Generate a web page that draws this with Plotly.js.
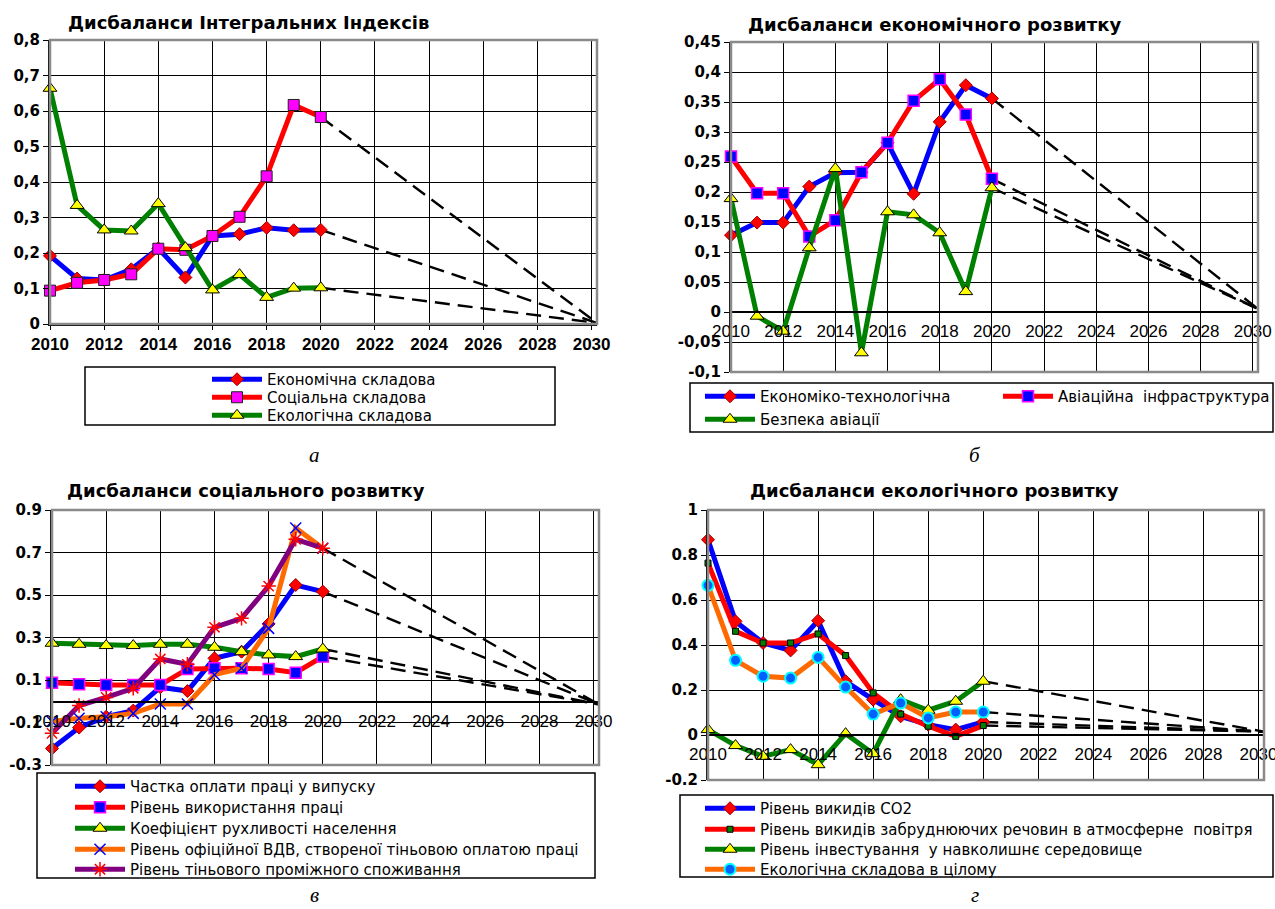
<!DOCTYPE html>
<html>
<head>
<meta charset="utf-8">
<script src="https://cdn.plot.ly/plotly-3.0.1.min.js"></script>
<style>html,body{margin:0;padding:0;background:#fff}#chart{width:1275px;height:909px}</style>
</head>
<body>
<div id="chart"></div>
<script>
// ---------- data ----------
const years = [2010, 2011, 2012, 2013, 2014, 2015, 2016, 2017, 2018, 2019, 2020];
const trendYears = [2020, 2030.2];
const xTickVals = [2010, 2012, 2014, 2016, 2018, 2020, 2022, 2024, 2026, 2028, 2030];
const xTickText = ['2010', '2012', '2014', '2016', '2018', '2020', '2022', '2024', '2026', '2028', '2030'];

// а — інтегральні індекси
const aNames = ['Економічна складова', 'Соціальна складова', 'Екологічна складова'];
const aEconomic = [0.192, 0.128, 0.124, 0.154, 0.213, 0.131, 0.248, 0.253, 0.271, 0.264, 0.265];
const aSocial = [0.094, 0.116, 0.124, 0.140, 0.212, 0.209, 0.248, 0.302, 0.416, 0.617, 0.583];
const aEcological = [0.664, 0.334, 0.265, 0.262, 0.339, 0.215, 0.096, 0.139, 0.075, 0.101, 0.102];
const aTrendEnd = 0.003;
const aYTickVals = [0, 0.1, 0.2, 0.3, 0.4, 0.5, 0.6, 0.7, 0.8];
const aYTickText = ['0', '0,1', '0,2', '0,3', '0,4', '0,5', '0,6', '0,7', '0,8'];

// б — економічний розвиток
const bNames = ['Економіко-технологічна', 'Авіаційна  інфраструктура', 'Безпека авіації'];
const bEconTech = [0.128, 0.149, 0.149, 0.209, 0.232, 0.233, 0.282, 0.197, 0.317, 0.378, 0.356];
const bInfra = [0.259, 0.198, 0.198, 0.126, 0.153, 0.233, 0.282, 0.352, 0.388, 0.329, 0.222];
const bSafety = [0.189, -0.007, -0.032, 0.107, 0.239, -0.068, 0.167, 0.162, 0.132, 0.034, 0.207];
const bTrendEnd = 0.005;
const bYTickVals = [-0.1, -0.05, 0, 0.05, 0.1, 0.15, 0.2, 0.25, 0.3, 0.35, 0.4, 0.45];
const bYTickText = ['-0,1', '-0,05', '0', '0,05', '0,1', '0,15', '0,2', '0,25', '0,3', '0,35', '0,4', '0,45'];

// в — соціальний розвиток
const vNames = ['Частка оплати праці у випуску', 'Рівень використання праці', 'Коефіцієнт рухливості населення',
  'Рівень офіційної ВДВ, створеної тіньовою оплатою праці', 'Рівень тіньового проміжного споживання'];
const vWage = [-0.222, -0.124, -0.073, -0.044, 0.066, 0.048, 0.202, 0.233, 0.364, 0.547, 0.516];
const vLabor = [0.087, 0.080, 0.076, 0.076, 0.076, 0.152, 0.155, 0.155, 0.152, 0.134, 0.210];
const vMobility = [0.273, 0.268, 0.262, 0.262, 0.268, 0.268, 0.254, 0.233, 0.218, 0.210, 0.246];
const vShadowGVA = [-0.095, -0.080, -0.073, -0.057, -0.013, -0.013, 0.125, 0.155, 0.343, 0.815, 0.720];
const vShadowCons = [-0.151, -0.020, 0.018, 0.061, 0.199, 0.174, 0.348, 0.390, 0.542, 0.762, 0.720];
const vTrendEnd = -0.015;
const vYTickVals = [-0.3, -0.1, 0.1, 0.3, 0.5, 0.7, 0.9];
const vYTickText = ['-0.3', '-0.1', '0.1', '0.3', '0.5', '0.7', '0.9'];

// г — екологічний розвиток
const gNames = ['Рівень викидів СО2', 'Рівень викидів забруднюючих речовин в атмосферне  повітря',
  'Рівень інвестування  у навколишнє середовище', 'Екологічна складова в цілому'];
const gCO2 = [0.868, 0.505, 0.409, 0.376, 0.508, 0.239, 0.157, 0.083, 0.046, 0.024, 0.058];
const gPollutants = [0.764, 0.461, 0.409, 0.409, 0.449, 0.353, 0.187, 0.093, 0.039, -0.006, 0.042];
const gInvestment = [0.024, -0.047, -0.095, -0.065, -0.132, 0.006, -0.083, 0.157, 0.110, 0.150, 0.239];
const gOverall = [0.665, 0.332, 0.261, 0.253, 0.345, 0.213, 0.093, 0.142, 0.076, 0.102, 0.102];
const gTrendEnd = 0.015;
const gYTickVals = [-0.2, 0, 0.2, 0.4, 0.6, 0.8, 1];
const gYTickText = ['-0.2', '0', '0.2', '0.4', '0.6', '0.8', '1'];

const titles = ['Дисбаланси Інтегральних Індексів', 'Дисбаланси економічного розвитку',
  'Дисбаланси соціального розвитку', 'Дисбаланси екологічного розвитку'];
const captions = ['а', 'б', 'в', 'г'];

// ---------- helpers ----------
const W = 1275, H = 909;
const PX = p => p / W;
const PY = p => 1 - p / H;

const BLUE = '#0000ff', RED = '#ff0000', GREEN = '#008000', ORANGE = '#ff6a00', PURPLE = '#800080';
const MAGENTA = '#ff00ff', YELLOW = '#ffff00';
const LW = 5;

function series(x, y, name, color, marker, xa, ya, legend) {
  return { type: 'scatter', mode: 'lines+markers', x: x, y: y, name: name, xaxis: xa, yaxis: ya,
    legend: legend, line: { color: color, width: LW }, marker: marker, hoverinfo: 'x+y', cliponaxis: false };
}
function trend(y0, yEnd, xa, ya) {
  return { type: 'scatter', mode: 'lines', x: trendYears, y: [y0, yEnd], xaxis: xa, yaxis: ya,
    showlegend: false, hoverinfo: 'skip', line: { color: '#000', width: 2.4, dash: '15px,8px' } };
}
const mDiamond = { symbol: 'diamond', size: 10, color: RED, line: { color: '#a00000', width: 1 } };
const mSquareMag = { symbol: 'square', size: 11, color: MAGENTA, line: { color: '#202020', width: 1 } };
const mSquareBlue = { symbol: 'square', size: 11, color: BLUE, line: { color: MAGENTA, width: 1.5 } };
const mTriangle = { symbol: 'triangle-up', size: 12, color: YELLOW, line: { color: '#000', width: 1 } };
const mX = { symbol: 'x-thin-open', size: 11, color: BLUE, line: { color: BLUE, width: 1.5 } };
const mStar = { symbol: 'asterisk-open', size: 12, color: RED, line: { color: RED, width: 1.5 } };
const mSmallSq = { symbol: 'square', size: 6, color: GREEN, line: { color: '#000', width: 1 } };
const mCircle = { symbol: 'circle', size: 11, color: '#0060ff', line: { color: '#00ffff', width: 2 } };

const last = arr => arr[arr.length - 1];

const data = [
  trend(last(aSocial), aTrendEnd, 'x', 'y'),
  trend(last(aEconomic), aTrendEnd, 'x', 'y'),
  trend(last(aEcological), aTrendEnd, 'x', 'y'),
  series(years, aEconomic, aNames[0], BLUE, mDiamond, 'x', 'y', 'legend'),
  series(years, aSocial, aNames[1], RED, mSquareMag, 'x', 'y', 'legend2'),
  series(years, aEcological, aNames[2], GREEN, mTriangle, 'x', 'y', 'legend3'),

  trend(last(bEconTech), bTrendEnd, 'x2', 'y2'),
  trend(last(bInfra), bTrendEnd, 'x2', 'y2'),
  trend(last(bSafety), bTrendEnd, 'x2', 'y2'),
  series(years, bEconTech, bNames[0], BLUE, mDiamond, 'x2', 'y2', 'legend4'),
  series(years, bInfra, bNames[1], RED, mSquareBlue, 'x2', 'y2', 'legend5'),
  series(years, bSafety, bNames[2], GREEN, mTriangle, 'x2', 'y2', 'legend6'),

  trend(last(vShadowCons), vTrendEnd, 'x3', 'y3'),
  trend(last(vWage), vTrendEnd, 'x3', 'y3'),
  trend(last(vMobility), vTrendEnd, 'x3', 'y3'),
  trend(last(vLabor), vTrendEnd, 'x3', 'y3'),
  series(years, vWage, vNames[0], BLUE, mDiamond, 'x3', 'y3', 'legend7'),
  series(years, vLabor, vNames[1], RED, mSquareBlue, 'x3', 'y3', 'legend8'),
  series(years, vMobility, vNames[2], GREEN, mTriangle, 'x3', 'y3', 'legend9'),
  series(years, vShadowGVA, vNames[3], ORANGE, mX, 'x3', 'y3', 'legend10'),
  series(years, vShadowCons, vNames[4], PURPLE, mStar, 'x3', 'y3', 'legend11'),

  trend(last(gInvestment), gTrendEnd, 'x4', 'y4'),
  trend(last(gOverall), gTrendEnd, 'x4', 'y4'),
  trend(last(gCO2), gTrendEnd, 'x4', 'y4'),
  trend(last(gPollutants), gTrendEnd, 'x4', 'y4'),
  series(years, gCO2, gNames[0], BLUE, mDiamond, 'x4', 'y4', 'legend12'),
  series(years, gPollutants, gNames[1], RED, mSmallSq, 'x4', 'y4', 'legend13'),
  series(years, gInvestment, gNames[2], GREEN, mTriangle, 'x4', 'y4', 'legend14'),
  series(years, gOverall, gNames[3], ORANGE, mCircle, 'x4', 'y4', 'legend15')
];

const boldY = { family: 'DejaVu Sans', size: 15, color: '#000', weight: 'bold' };
const boldX = { family: 'Liberation Sans', size: 17, color: '#000', weight: 'bold' };
const regX = { family: 'Liberation Sans', size: 17, color: '#000' };

function xAxis(d0, d1, extra, font) {
  return Object.assign({ domain: [PX(d0), PX(d1)], range: [2010, 2030.2], tickmode: 'array',
    tickvals: xTickVals, ticktext: xTickText, showgrid: true, gridcolor: '#000', gridwidth: 1,
    zeroline: false, showline: true, linecolor: '#000', linewidth: 1.5, ticks: 'outside',
    ticklen: 4, tickcolor: '#000', tickfont: font, ticklabeloverflow: 'allow', fixedrange: true }, extra);
}
function yAxis(top, bottom, range, tv, tt, anchor, extra) {
  return Object.assign({ domain: [PY(bottom), PY(top)], range: range, tickmode: 'array', tickvals: tv,
    ticktext: tt, showgrid: true, gridcolor: '#000', gridwidth: 1, zeroline: false, showline: true,
    linecolor: '#000', linewidth: 2, ticks: 'outside', ticklen: 5, tickcolor: '#000',
    tickfont: boldY, anchor: anchor, ticklabeloverflow: 'allow', fixedrange: true }, extra);
}

const legendFont = { family: 'DejaVu Sans', size: 15, color: '#000' };
// each legend row placed by its vertical centre (pixels)
function legendAt(x, rowCentre) {
  return { x: PX(x), y: PY(rowCentre - 15), xanchor: 'left', yanchor: 'top', bgcolor: 'rgba(0,0,0,0)',
    borderwidth: 0, font: legendFont, itemwidth: 50, tracegroupgap: 0, traceorder: 'normal',
    itemclick: false, itemdoubleclick: false };
}

function frame(x0, y0, x1, y1) {
  return { type: 'rect', xref: 'paper', yref: 'paper', x0: PX(x0), x1: PX(x1), y0: PY(y1), y1: PY(y0),
    line: { color: '#8a8a8a', width: 2.5 }, layer: 'above' };
}
function box(x0, y0, x1, y1) {
  return { type: 'rect', xref: 'paper', yref: 'paper', x0: PX(x0), x1: PX(x1), y0: PY(y1), y1: PY(y0),
    line: { color: '#000', width: 1.5 }, fillcolor: 'rgba(0,0,0,0)' };
}
const titleFont = { family: 'DejaVu Sans', size: 18, color: '#000', weight: 'bold' };
function titleAnn(text, cx, cy) {
  return { text: text, x: PX(cx), y: PY(cy), xref: 'paper', yref: 'paper', xanchor: 'center',
    yanchor: 'middle', showarrow: false, font: titleFont };
}
function capAnn(text, cx, cy) {
  return { text: text, x: PX(cx), y: PY(cy), xref: 'paper', yref: 'paper', xanchor: 'center',
    yanchor: 'middle', showarrow: false,
    font: { family: 'Liberation Serif', size: 21, color: '#000', style: 'italic' } };
}

const layout = {
  width: W, height: H, margin: { l: 0, r: 0, t: 0, b: 0 }, paper_bgcolor: '#fff', plot_bgcolor: '#fff',
  showlegend: true, hovermode: 'closest',
  xaxis: xAxis(50, 597, { anchor: 'y' }, boldX),
  yaxis: yAxis(40, 324, [0, 0.8], aYTickVals, aYTickText, 'x'),
  xaxis2: xAxis(731, 1258, { anchor: 'free', position: PY(312) }, regX),
  yaxis2: yAxis(42, 372, [-0.1, 0.45], bYTickVals, bYTickText, 'x2'),
  xaxis3: xAxis(52, 599, { anchor: 'free', position: PY(702) }, regX),
  yaxis3: yAxis(510, 765, [-0.3, 0.9], vYTickVals, vYTickText, 'x3',
    { zeroline: true, zerolinecolor: '#000', zerolinewidth: 1 }),
  xaxis4: xAxis(708, 1264, { anchor: 'free', position: PY(735) }, regX),
  yaxis4: yAxis(510, 780, [-0.2, 1], gYTickVals, gYTickText, 'x4'),
  legend: legendAt(207, 378),
  legend2: legendAt(207, 396),
  legend3: legendAt(207, 414),
  legend4: legendAt(700, 395),
  legend5: legendAt(998, 395),
  legend6: legendAt(700, 418),
  legend7: legendAt(70, 785),
  legend8: legendAt(70, 806),
  legend9: legendAt(70, 827),
  legend10: legendAt(70, 848),
  legend11: legendAt(70, 868),
  legend12: legendAt(700, 807),
  legend13: legendAt(700, 828),
  legend14: legendAt(700, 848),
  legend15: legendAt(700, 868),
  shapes: [
    frame(50, 40, 597, 324), frame(731, 42, 1258, 372), frame(52, 510, 599, 765), frame(708, 510, 1264, 780),
    box(85, 367, 555, 425), box(690, 383, 1273, 432), box(37, 773, 595, 878), box(680, 795, 1273, 877)
  ],
  annotations: [
    titleAnn(titles[0], 248, 22), titleAnn(titles[1], 934, 25),
    titleAnn(titles[2], 246, 490), titleAnn(titles[3], 934, 490),
    capAnn(captions[0], 314, 455), capAnn(captions[1], 975, 455),
    capAnn(captions[2], 314, 895), capAnn(captions[3], 975, 895)
  ]
};

Plotly.newPlot('chart', data, layout, { displayModeBar: false, staticPlot: false });
</script>
</body>
</html>
